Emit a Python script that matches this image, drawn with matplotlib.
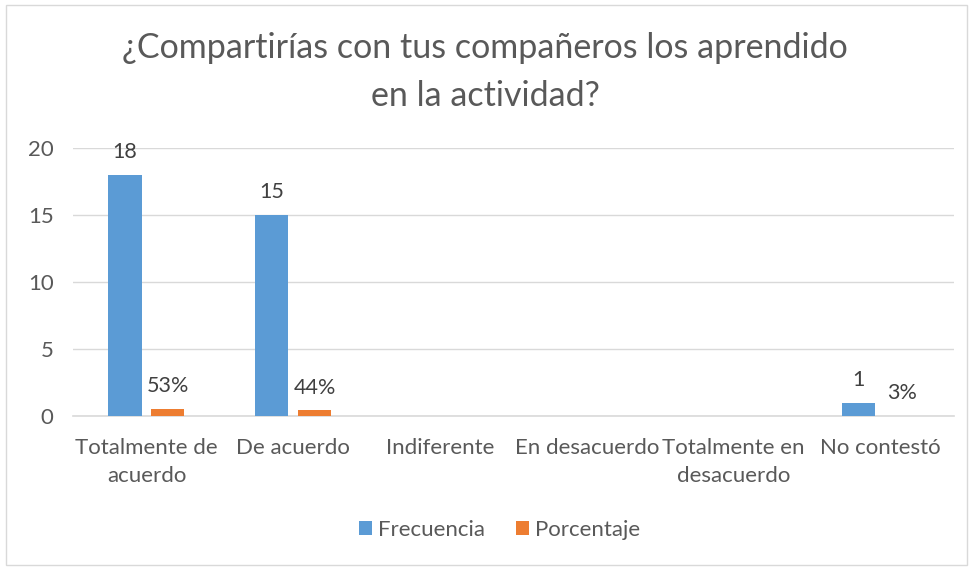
import numpy as np
import matplotlib
matplotlib.use('Agg')
import matplotlib.pyplot as plt
from matplotlib.patches import Rectangle

categories = ['Totalmente de\nacuerdo', 'De acuerdo', 'Indiferente', 'En desacuerdo',
              'Totalmente en\ndesacuerdo', 'No contestó']
frecuencia = [18, 15, 0, 0, 0, 1]
porcentaje = [0.53, 0.44, 0, 0, 0, 0.03]
freq_labels = ['18', '15', '', '', '', '1']
pct_labels = ['53%', '44%', '', '', '', '3%']

plt.rcParams['font.family'] = ['Lato', 'DejaVu Sans']
txt = '#595959'
blue = '#5B9BD5'
orange = '#ED7D31'

fig = plt.figure(figsize=(9.7, 5.67), dpi=100)
fig.patches.append(Rectangle((0.006, 0.004), 0.991, 0.988, transform=fig.transFigure,
                             fill=False, edgecolor='#D9D9D9', linewidth=1))
ax = fig.add_axes([0.0753, 0.2663, 0.908, 0.4727])

x = np.arange(len(categories))
w = 0.225
off = 0.146
b1 = ax.bar(x - off, frecuencia, w, color=blue, label='Frecuencia', zorder=3)
b2 = ax.bar(x + off, porcentaje, w, color=orange, label='Porcentaje', zorder=3)

for i in range(len(x)):
    if freq_labels[i]:
        ax.annotate(freq_labels[i], (x[i] - off, frecuencia[i]), xytext=(0, 9),
                    textcoords='offset points', ha='center', va='bottom', fontsize=15.5, color='#404040')
    if pct_labels[i]:
        ax.annotate(pct_labels[i], (x[i] + off, porcentaje[i]), xytext=(0, 9),
                    textcoords='offset points', ha='center', va='bottom', fontsize=15.5, color='#404040')

ax.set_xlim(-0.5, len(categories) - 0.5)
ax.set_ylim(0, 20)
ax.set_yticks([0, 5, 10, 15, 20])
ax.yaxis.grid(True, color='#D9D9D9', linewidth=1, zorder=0)
for s in ['top', 'right', 'left']:
    ax.spines[s].set_visible(False)
ax.spines['bottom'].set_color('#D9D9D9')
ax.spines['bottom'].set_linewidth(1.2)
ax.tick_params(axis='both', length=0, labelsize=16, colors=txt)
ax.set_xticks(x)
ax.set_xticklabels(categories, linespacing=1.5)
ax.tick_params(axis='x', pad=16)
ax.tick_params(axis='y', pad=14)

fig.text(0.5, 0.915, '¿Compartirías con tus compañeros los aprendido', ha='center', va='center',
         fontsize=24.5, color=txt)
fig.text(0.5, 0.83, 'en la actividad?', ha='center', va='center', fontsize=24.5, color=txt)

fig.legend(handles=[b1, b2], loc='center', bbox_to_anchor=(0.515, 0.066), ncol=2, frameon=False,
           fontsize=16, labelcolor=txt, handlelength=0.6, handleheight=0.6, columnspacing=1.4,
           handletextpad=0.25)

fig.savefig('out.png', dpi=100)
